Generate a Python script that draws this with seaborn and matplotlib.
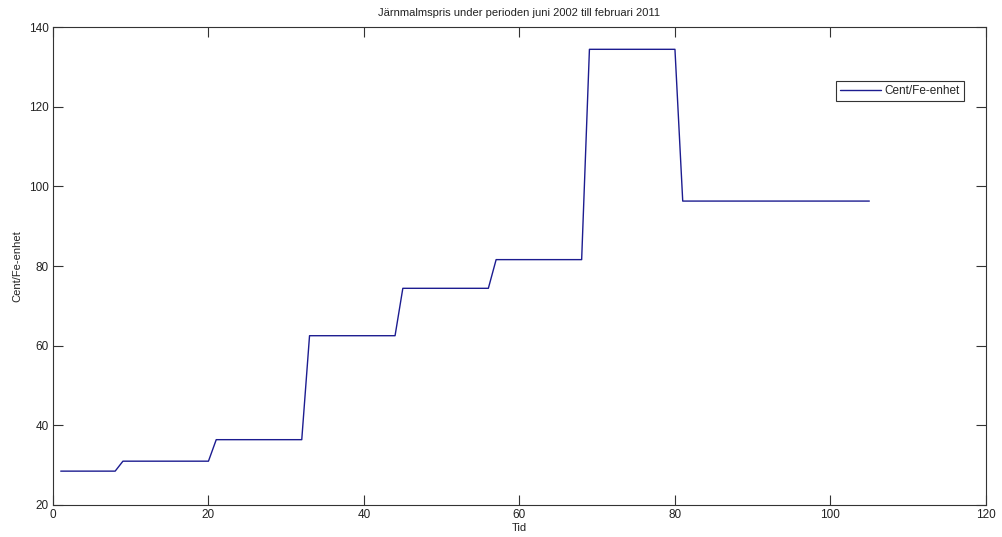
import numpy as np
import pandas as pd
import matplotlib
matplotlib.use("Agg")
import matplotlib.pyplot as plt
import seaborn as sns

# Iron ore benchmark price, monthly from June 2002 to February 2011
price_levels = [28.5, 31.0, 36.4, 62.5, 74.4, 81.6, 134.4, 96.3]
months_at_level = [8, 12, 12, 12, 12, 12, 12, 25]

months = np.arange(1, sum(months_at_level) + 1)
prices = np.repeat(price_levels, months_at_level)

df = pd.DataFrame({"Tid": months, "Cent/Fe-enhet": prices})

x_ticks = [0, 20, 40, 60, 80, 100, 120]
y_ticks = [20, 40, 60, 80, 100, 120, 140]

sns.set_style("ticks")
plt.rcParams["font.family"] = ["Liberation Sans", "DejaVu Sans"]
plt.rcParams["font.size"] = 8

fig = plt.figure(figsize=(10.03, 5.37), dpi=100)
ax = fig.add_axes([0.0528, 0.0596, 0.9302, 0.8901])

sns.lineplot(data=df, x="Tid", y="Cent/Fe-enhet", ax=ax, color="#1c1c90",
             linewidth=1.0, label="Cent/Fe-enhet")

ax.set_xlim(0, 120)
ax.set_ylim(20, 140)
ax.set_xticks(x_ticks)
ax.set_yticks(y_ticks)
ax.tick_params(direction="in", length=7, width=0.8, colors="#333333",
               labelcolor="#222222", labelsize=8.5, top=True, right=True, pad=3)
for sp in ax.spines.values():
    sp.set_visible(True)
    sp.set_color("#333333")
    sp.set_linewidth(0.8)

ax.set_title("Järnmalmspris under perioden juni 2002 till februari 2011",
             fontsize=8, color="#222222", pad=8)
ax.set_xlabel("Tid", fontsize=8, color="#222222", labelpad=1)
ax.set_ylabel("Cent/Fe-enhet", fontsize=8, color="#222222", labelpad=5)

leg = ax.legend(loc="upper right", bbox_to_anchor=(0.983, 0.9), fancybox=False,
                edgecolor="#333333", framealpha=1, fontsize=8.5,
                handlelength=3.5, borderpad=0.35, handletextpad=0.3)
leg.get_frame().set_linewidth(0.8)

fig.savefig("out.png", dpi=100)
